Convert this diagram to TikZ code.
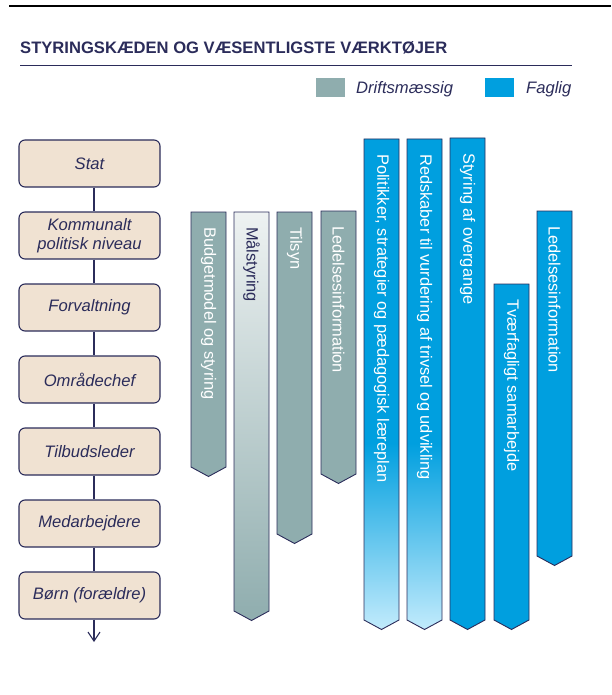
\documentclass[tikz,border=0pt]{standalone}
\usepackage{fontspec}
\setmainfont{Liberation Sans}
\usetikzlibrary{arrows.meta}
\definecolor{navy}{HTML}{2B2C5A}
\definecolor{drift}{HTML}{8FADAE}
\definecolor{faglig}{HTML}{009FDF}
\definecolor{lightfag}{HTML}{C2EBFC}
\definecolor{lightdrift}{HTML}{EEF2F2}
\definecolor{beige}{HTML}{F0E2D2}
\pgfdeclareverticalshading{fagfade}{100bp}{color(0bp)=(lightfag); color(25bp)=(lightfag); color(44bp)=(faglig); color(100bp)=(faglig)}
\newcommand\toolbar[6]{%
  \path[#1] (#2,#3) -- (#2+35,#3) -- (#2+35,#4) -- (#2+17.5,#4+9.5) -- (#2,#4) -- cycle;
  \node[bartext,#5] at (#2+17.5,#3+15) {#6};
}
\begin{document}
\begin{tikzpicture}[x=1pt,y=-1pt,
  chainbox/.style={draw=navy, line width=1.1pt, fill=beige, rounded corners=6pt,
    minimum width=141pt, minimum height=47pt, inner sep=0pt, align=center,
    font=\fontsize{16.6}{19}\selectfont\itshape, text=navy},
  link/.style={draw=navy, line width=1.1pt},
  bartext/.style={rotate=-90, anchor=west, inner sep=0pt, font=\fontsize{16.4}{19}\selectfont, text=white},
  dbar/.style={draw=navy, line width=0.9pt, fill=drift},
  dgbar/.style={draw=navy, line width=0.9pt, top color=lightdrift, bottom color=drift},
  fbar/.style={draw=navy, line width=0.9pt, fill=faglig},
  fgbar/.style={draw=navy, line width=0.9pt, shading=fagfade},
  legtext/.style={anchor=base west, inner sep=0pt, font=\fontsize{16.6}{19}\selectfont\itshape, text=navy}
]
\useasboundingbox (0,0) rectangle (611,695);
% header
\draw[black, line width=2.3pt] (9,6.2) -- (611,6.2);
\node[anchor=base west, inner sep=0pt, font=\fontsize{16.6}{19}\selectfont\bfseries, text=navy] (title) at (20,53.3) {STYRINGSKÆDEN OG VÆSENTLIGSTE VÆRKTØJER};
\draw[navy, line width=1.5pt] (20,65.3) -- (572,65.3);
% legend
\fill[drift] (316,78) rectangle (345,97);
\node[legtext] (ldrift) at (356,93.3) {Driftsmæssig};
\fill[faglig] (485,78) rectangle (514,97);
\node[legtext] (lfag) at (526,93.3) {Faglig};
% chain
\node[chainbox] (stat) at (89.5,163.5) {Stat};
\node[chainbox] (komm) at (89.5,235.5) {Kommunalt\\politisk niveau};
\node[chainbox] (forv) at (89.5,307.5) {Forvaltning};
\node[chainbox] (omr) at (89.5,379.5) {Områdechef};
\node[chainbox] (tilb) at (89.5,451.5) {Tilbudsleder};
\node[chainbox] (medarb) at (89.5,523.5) {Medarbejdere};
\node[chainbox] (born) at (89.5,595.5) {Børn (forældre)};
\coordinate (chainend) at (94,642);
\foreach \a/\b in {stat/komm, komm/forv, forv/omr, omr/tilb, tilb/medarb, medarb/born}
  \draw[link] ([xshift=4.5pt]\a.south) -- ([xshift=4.5pt]\b.north);
\draw[link, -{Straight Barb[length=9pt,width=12pt]}] ([xshift=4.5pt]born.south) -- (chainend);
% Driftsmaessige bars
\toolbar{dbar}{191}{212}{467}{}{Budgetmodel og styring}
\toolbar{dgbar}{234}{212}{611}{text=navy}{Målstyring}
\toolbar{dbar}{277}{212}{534}{}{Tilsyn}
\toolbar{dbar}{321}{211}{474}{}{Ledelsesinformation}
% Faglige bars
\toolbar{fgbar}{364}{139}{620}{}{Politikker, strategier og pædagogisk læreplan}
\toolbar{fgbar}{407}{139}{620}{}{Redskaber til vurdering af trivsel og udvikling}
\toolbar{fbar}{450}{138}{620}{}{Styring af overgange}
\toolbar{fbar}{494}{284}{620}{}{Tværfagligt samarbejde}
\toolbar{fbar}{537}{211}{556}{}{Ledelsesinformation}
\end{tikzpicture}
\end{document}
